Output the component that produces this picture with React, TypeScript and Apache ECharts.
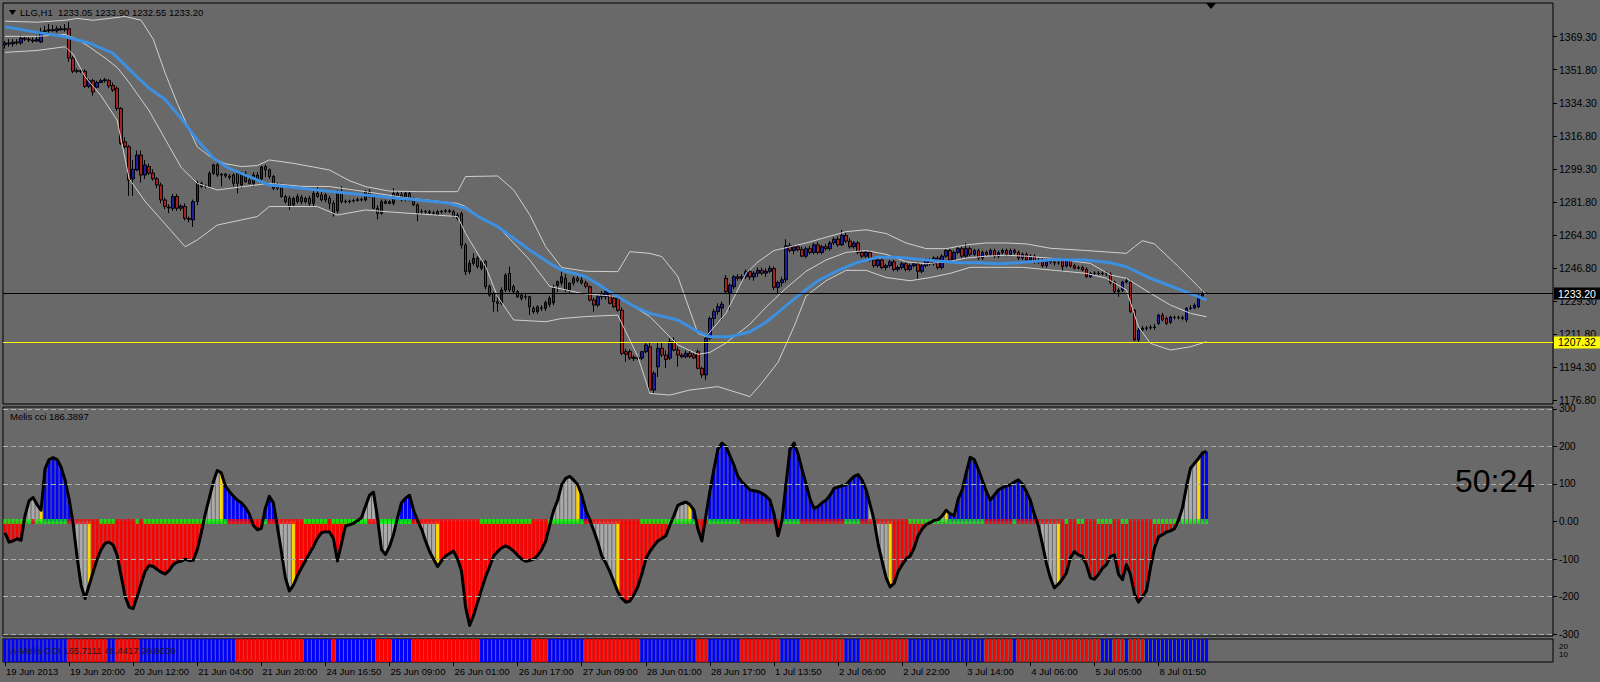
import React, { useEffect, useRef } from "react";
import * as echarts from "echarts";

// ---------- DATA ----------
const titleText = "LLG,H1  1233.05 1233.90 1232.55 1233.20";
const cciTitle = "Melis cci 186.3897";
const stripTitle = "A-Melis CCI 165.7111 48.4417 20.0000";
const timerText = "50:24";

const tickLabels = [
  "19 Jun 2013", "19 Jun 20:00", "20 Jun 12:00", "21 Jun 04:00", "21 Jun 20:00",
  "24 Jun 16:50", "25 Jun 09:00", "26 Jun 01:00", "26 Jun 17:00", "27 Jun 09:00",
  "28 Jun 01:00", "28 Jun 17:00", "1 Jul 13:50", "2 Jul 06:00", "2 Jul 22:00",
  "3 Jul 14:00", "4 Jul 06:00", "5 Jul 05:00", "8 Jul 01:50",
];
const barsPerLabel = 16;
const slotCount = 387; // visible bar slots incl. right chart shift

const priceTicks = [1176.8, 1194.3, 1211.8, 1229.3, 1246.8, 1264.3, 1281.8, 1299.3, 1316.8, 1334.3, 1351.8, 1369.3];
const cciTicks = [-300, -200, -100, 0, 100, 200, 300];
const cciLevels = [300, 200, 100, -100, -200, -300];
const stripTickLow = [10];
const stripTickHigh = [20];
const lastPrice = 1233.2;
const yellowLevel = 1207.32;

// [open, high, low, close]
const ohlc: number[][] = [
  [1365,1367,1363,1366],[1366,1368,1364,1365.5],[1365.5,1368,1364,1366.5],[1366.5,1368,1365,1366],[1366,1370,1365,1368.5],
  [1368.5,1369.5,1367,1368],[1368,1369,1366.5,1367.5],[1367.5,1369,1366,1367],[1367,1370,1366.5,1368],[1366.5,1374,1366,1372],
  [1372,1375,1370,1372.5],[1372.5,1376,1371,1373],[1373,1375.5,1372,1372.5],[1372.5,1375,1371.5,1373.5],[1373.5,1375,1372.5,1373],
  [1373,1376,1372,1373.5],[1373.5,1377,1356,1358],[1358,1359,1350,1351],[1351,1352.5,1350,1351.3],[1351.3,1352,1350,1350.8],
  [1351,1352,1342,1343],[1343,1347,1342,1346],[1346,1347,1338,1340],[1342.5,1346,1342,1345],[1345,1347,1345,1346],
  [1346,1347.5,1345,1346.5],[1346,1347,1342,1343.2],[1343.5,1345,1340,1341],[1342,1343,1330,1331.3],[1331.3,1332,1312,1312.8],
  [1313.6,1316,1310,1311],[1311,1312,1285,1293.3],[1294,1304,1285,1299],[1298.7,1309,1298,1306.6],[1306.6,1309,1292,1296],
  [1296,1304,1294,1301.3],[1300.5,1302,1296,1297],[1297,1299,1293,1294],[1294,1295,1289,1290.7],[1290.7,1292,1281,1282.8],
  [1282.8,1284,1278,1279.3],[1279,1280.5,1275.8,1278.6],[1278.4,1286,1277,1284.6],[1284.6,1286,1277,1278.4],[1278.4,1280.5,1277,1279.6],
  [1279.3,1281,1272,1273.1],[1273.1,1274,1271,1272.5],[1272.2,1283,1268.5,1281.9],[1281.9,1293,1280,1291.6],[1291.6,1292.5,1289,1290],
  [1290,1291,1289,1290.5],[1290,1298,1289,1296.9],[1296.9,1302,1296,1301.4],[1301.4,1302.5,1295,1296],[1296,1297,1290,1296.5],
  [1296.5,1297,1294.5,1295.5],[1295.5,1296.5,1293.5,1294.8],[1296,1297,1290,1291.6],[1296.9,1298,1286.3,1291.6],[1290.7,1298,1289,1296.9],
  [1296.9,1298,1292,1292.5],[1293.4,1294.5,1291,1291.6],[1291.6,1297.5,1290,1296],[1296,1297.5,1293,1293.4],[1294,1301,1293,1300.3],
  [1300.5,1301.4,1295,1298.7],[1298.7,1299.5,1294,1295.2],[1295.2,1296,1288,1289],[1289,1292,1288,1290.7],[1290.7,1291.5,1284,1284.6],
  [1284.6,1285.5,1281,1281.9],[1283.7,1285,1277.5,1279.3],[1280.2,1284.5,1279,1283.7],[1281.9,1286,1281,1284.6],[1284.2,1285.5,1280.5,1281.9],
  [1281.9,1284.5,1281,1283.7],[1283.7,1285,1279.5,1281],[1281,1287.5,1279,1286.3],[1286.3,1289.9,1284,1284.6],[1285.5,1287,1282,1282.8],
  [1282.8,1286.5,1281.5,1285.5],[1283.7,1285,1278,1281],[1281,1282.5,1274,1275.7],[1277,1288,1276,1286.3],[1286.3,1290,1281,1281.9],
  [1281.9,1283,1281,1282],[1282,1283,1281,1282.3],[1282.3,1283.5,1281.5,1282.5],[1282.5,1284,1282,1283],[1283,1284,1282,1282.8],
  [1282.8,1288,1282,1287.2],[1287.2,1288.5,1284,1284.6],[1284.6,1285.5,1278,1278.4],[1278.4,1280,1272.5,1275.7],[1275.7,1283,1275,1281.9],
  [1281.9,1283,1280.5,1281],[1281,1282.5,1280.5,1281.9],[1281,1289,1280,1286.3],[1286.3,1287.5,1284,1284.6],[1285.5,1287,1282,1282.8],
  [1282.8,1287.5,1282,1286.3],[1286.3,1287.5,1282,1282.8],[1282.8,1284,1279.5,1280.2],[1280.2,1281,1271.5,1275.7],[1276.5,1278,1275,1276.6],
  [1276.6,1277.5,1275.5,1276.5],[1276.5,1277.5,1275.5,1276],[1276,1277,1274.5,1275.7],[1275.1,1277.5,1274.5,1276.6],[1276.6,1277.5,1275.5,1276.8],
  [1276.8,1278,1276,1277],[1277,1278,1276,1276.6],[1276.6,1277.5,1273.5,1274],[1274.8,1276,1272,1273.1],[1275.5,1276.5,1257,1258.9],
  [1258.9,1260,1243,1244.8],[1244.8,1251,1243.5,1249.2],[1249.2,1254.5,1248,1251.9],[1251.9,1253,1246.5,1247.5],[1246.6,1251.5,1245.5,1250.1],
  [1250.1,1251,1235.5,1236.9],[1236.9,1238,1231.5,1232.4],[1233.3,1234,1223.6,1228.9],[1228.9,1233.3,1223.6,1228],[1228,1236.5,1227,1235.1],
  [1235.1,1244,1234,1243],[1243.9,1247.5,1234,1235.1],[1236.9,1238,1233,1234.2],[1234.2,1235,1231,1231.5],[1232.4,1233.5,1229.5,1230.7],
  [1231.5,1233,1230,1231.4],[1231.5,1232,1221.8,1226.2],[1225.4,1226.5,1222.5,1223.6],[1223.6,1227,1222.5,1226.2],[1225.4,1227,1224,1225.6],
  [1225.4,1229.5,1224,1228.4],[1227.5,1232,1226,1230.7],[1228.2,1238,1227,1236.1],[1237.5,1240,1234,1239.6],[1238.8,1245,1237.5,1242.1],
  [1241.3,1243.5,1234,1235.1],[1235.1,1239,1233.5,1238.8],[1238.8,1242.5,1237.5,1241.3],[1241.3,1243,1239,1240],[1240.4,1242,1238,1238.8],
  [1238.8,1240,1236,1237.1],[1236.8,1237.5,1229,1229.8],[1229.8,1231,1223.6,1227.1],[1227.1,1232.5,1226,1231.5],[1231.5,1234.5,1230,1233.3],
  [1231.5,1236.5,1230,1234.2],[1234.2,1235.5,1227.5,1228],[1230.6,1233,1225.5,1226.2],[1230.6,1232,1223.5,1224.4],[1224.4,1226,1200.5,1201.5],
  [1202.4,1204,1197.1,1201],[1202.4,1203.5,1198,1199],[1199.5,1200.5,1197.5,1198.8],[1198.8,1200,1198,1199.2],[1199,1202.8,1198,1202.4],
  [1202.4,1207,1201.5,1206],[1205,1207,1180.5,1182.1],[1182.1,1192,1180.5,1191],[1194.4,1207,1189,1204.2],[1204.2,1207,1199.5,1200.6],
  [1200.6,1203,1193.7,1198.3],[1199,1209.5,1198,1207.7],[1207.7,1210,1202.5,1203.3],[1203.3,1205,1194.5,1200.6],[1200.6,1201.5,1199,1199.7],
  [1199.7,1203,1199,1201.5],[1201.5,1203,1199,1199.9],[1200.6,1202,1198.5,1199.1],[1202.4,1203.5,1193,1193.6],[1193.6,1194.5,1188.4,1190.1],
  [1190.1,1211,1187.5,1209.5],[1209.5,1221,1208.5,1220],[1220,1225,1216,1223.6],[1223.6,1228,1222,1226.2],[1225.5,1229,1219,1227.6],
  [1241.3,1243,1233,1234.2],[1233.4,1238.5,1224.5,1237.7],[1236.8,1243,1235.5,1242.1],[1242.1,1243.5,1240,1241.3],[1241.3,1243.5,1240,1242.1],
  [1242.1,1246,1241,1244.8],[1244.8,1246,1240.5,1242],[1242,1245,1240,1244],[1244,1247,1242,1245.5],[1245.5,1247,1243,1244],
  [1244,1246.5,1242,1245],[1245,1248,1244,1246.5],[1246.5,1247.5,1235,1236.5],[1236.5,1240,1233,1239],[1239,1242,1237,1240.5],
  [1240.5,1262,1239,1258.5],[1258.5,1260,1255,1256],[1256,1259,1254,1258],[1258,1259,1255.5,1256.5],[1256.5,1258,1252.5,1253],
  [1253,1258,1252,1257],[1257,1258.5,1254,1255],[1255,1260,1254,1259],[1259,1260.5,1254,1255],[1255,1259,1254,1258],
  [1258,1259.5,1256,1257],[1257,1261,1256,1260],[1260,1263,1259,1262],[1262,1263.5,1258,1259],[1259,1267,1258.5,1264],
  [1264,1265.5,1260,1261],[1261,1262.5,1257,1258],[1258,1261,1257,1260],[1260,1261,1254,1255],[1255,1256,1252,1253],
  [1253,1256.5,1252,1255],[1255,1256,1250,1251],[1251,1252,1247,1248],[1248,1252,1247,1251],[1251,1252,1246,1247],
  [1247,1249,1245.5,1248],[1248,1251,1247,1250],[1250,1251,1245,1246],[1246,1248,1245,1247],[1247,1250,1246,1249],
  [1249,1250,1245,1246],[1246,1249,1245,1248],[1248,1250,1247,1249],[1249,1250,1241,1245],[1245,1249,1244,1248],
  [1248,1252,1247,1251],[1251,1252,1248,1249],[1249,1253,1248,1252],[1252,1253,1246,1247],[1247,1254,1246,1253],
  [1253,1257,1252,1256],[1256,1257,1250,1251],[1251,1256,1250,1255],[1255,1258,1254,1257],[1257,1258,1252,1253],
  [1253,1260,1252,1257],[1257,1258,1253,1254],[1254,1257,1253,1256],[1256,1257,1251,1252],[1252,1256,1251,1255],
  [1255,1256,1253,1254],[1254,1257,1253,1256],[1256,1257,1252,1253],[1253,1256,1252,1255],[1255,1257,1254,1256],
  [1256,1257,1253,1254],[1254,1257,1253,1256],[1256,1257,1254,1255],[1255,1256,1251,1252],[1252,1255,1251,1254],
  [1254,1255,1250,1251],[1251,1254,1250,1253],[1253,1254,1249,1250],[1250,1252,1249,1251],[1251,1252,1247,1248],
  [1248,1252,1247,1251],[1251,1252,1249,1250],[1250,1251,1248,1249.5],[1249.5,1251,1248.5,1249.5],[1251,1252,1245,1247.5],
  [1247.8,1252,1247,1251],[1251,1252,1247,1247.8],[1248,1249,1246,1246.6],[1246.6,1248,1246,1247],[1247,1248,1245,1245.7],
  [1246,1247,1241.5,1242.1],[1242.1,1244.5,1241.5,1243.9],[1243.9,1245,1243,1244],[1244,1245,1243,1243.8],[1243.8,1245,1243,1244],
  [1244,1245,1242.5,1243.6],[1243.5,1244.5,1238,1239],[1239.3,1240,1233.5,1234.2],[1234.2,1236,1231.5,1235],[1235,1240,1234,1239.3],
  [1239.3,1241,1238.5,1240],[1239.3,1240.5,1223,1223.6],[1224.4,1225,1208,1208.6],[1208.6,1215,1207.5,1213.9],[1214,1216,1213,1214.8],
  [1214.8,1216,1213.5,1215],[1215,1216.5,1214,1215.2],[1215.2,1217,1214,1215.5],[1217.4,1222.5,1216.5,1221.8],[1221.8,1223,1218.5,1219.2],
  [1220,1221,1216.5,1217.4],[1218,1221.5,1217,1220.8],[1220.5,1221.5,1219.5,1220.4],[1220.4,1221.5,1219.5,1220.4],[1220,1221.5,1219,1220.5],
  [1219.2,1226,1218,1225.4],[1225.4,1227,1224.5,1225.5],[1225.5,1228,1225,1227.1],[1226.2,1233,1225.5,1231.9],[1232,1235,1231,1233],
  [1233.05,1233.9,1232.55,1233.2],
];

// Moving average (blue) and Bollinger lines (white), read as [bar, price]
const maLine = [[0,1374.6],[7,1372],[15,1369.3],[21,1366],[27,1360.5],[32,1350],[36,1342],[40,1336],[44,1326],[48,1314.6],[52,1305],[56,1299.5],[59,1296.9],[66,1290.7],[74,1289],[82,1287.2],[90,1285.4],[98,1283.7],[102,1283.1],[111,1281],[115,1278.4],[119,1273],[123,1268.7],[127,1262.5],[131,1256.3],[136,1249.2],[139,1245.7],[145,1242.1],[149,1237],[153,1231.5],[157,1226.5],[161,1222.7],[168,1219.2],[173,1213],[176,1210.3],[181,1210.3],[186,1213],[190,1218],[194,1225],[198,1232],[203,1240],[208,1245.5],[213,1249.8],[218,1252.5],[223,1252.5],[228,1251.4],[233,1250.5],[238,1249.5],[243,1249.5],[248,1249],[253,1249.5],[258,1250.5],[262,1251.3],[270,1251],[276,1249.5],[280,1247.4],[286,1241.3],[290,1238],[295,1234],[300,1229.8]];
const bbUpper = [[0,1377.5],[8,1377],[15,1378],[18,1379],[22,1378],[26,1379],[30,1380],[34,1378],[37,1368],[40,1350],[43,1334],[46,1320],[48,1311],[51,1306],[55,1302],[59,1300.5],[63,1301],[66,1304],[72,1302.2],[81,1298.7],[86,1293],[90,1289.9],[96,1287.5],[103,1287.2],[113,1287.2],[115,1295.2],[123,1295.5],[127,1288.1],[131,1275],[135,1258],[139,1247],[145,1245],[153,1244.8],[156,1255.4],[161,1254.5],[164,1252.8],[168,1242.2],[173,1212.1],[175,1210.4],[180,1222.7],[185,1243.9],[188,1250],[192,1256],[196,1258],[200,1260],[205,1263],[210,1266],[215,1267],[220,1265],[225,1260],[230,1257],[235,1257],[240,1259],[245,1260],[250,1260],[255,1259.5],[261,1257.2],[270,1256],[280,1254.5],[282,1258],[284,1261.2],[287,1259.5],[293,1247.4],[298,1236.8],[300,1232.4]];
const bbMiddle = [[0,1369.5],[8,1369.5],[15,1370.5],[18,1368],[21,1364],[25,1358],[28,1353],[31,1345],[36,1330],[40,1315],[44,1300],[48,1291.6],[53,1288.1],[60,1290],[66,1291.6],[74,1290],[81,1289.9],[90,1287.2],[100,1284],[113,1281],[115,1279.3],[119,1273],[123,1268.7],[127,1260],[131,1251],[136,1237],[144,1233.3],[153,1231.6],[161,1221],[168,1206],[173,1201],[176,1202],[180,1207],[186,1217],[190,1226],[195,1236],[200,1245],[205,1251],[210,1255],[215,1256],[220,1254],[225,1250],[230,1249],[235,1250],[240,1252],[245,1253],[250,1253.5],[255,1253],[261,1251.9],[271,1249.2],[276,1243],[280,1241.3],[286,1233.3],[291,1227.1],[296,1222.7],[300,1220.9]];
const bbLower = [[0,1361],[8,1362],[15,1364],[17,1360],[20,1348],[24,1338],[28,1325],[31,1294],[35,1282],[40,1270],[45,1258],[48,1261.6],[53,1269.5],[63,1274],[66,1279.3],[78,1279.3],[83,1274.8],[90,1277.5],[95,1276.6],[113,1274],[115,1265],[120,1247.5],[123,1231.5],[127,1219.2],[135,1218.3],[139,1220],[145,1221],[153,1221.8],[156,1208.6],[158,1199.8],[161,1180.3],[166,1179.4],[171,1182.1],[178,1183.9],[186,1178.6],[189,1185.9],[193,1196.8],[197,1215.7],[200,1231.9],[205,1240],[210,1245.5],[215,1245.5],[220,1241.7],[226,1240],[231,1241.7],[236,1243.9],[241,1247.1],[246,1247.1],[254,1247.1],[261,1245.7],[270,1243.9],[275,1241.3],[280,1235.1],[283,1215.6],[286,1206.8],[291,1203.3],[296,1205],[300,1207.7]];

// CCI value per bar
const cci = [
  -30,-55,-52,-46,-50,16,55,64,45,30, 140,165,170,165,145,110,60,-5,-95,-170,
  -205,-170,-135,-100,-75,-58,-55,-63,-90,-145, -200,-228,-232,-200,-165,-132,-117,-120,-128,-135,
  -140,-130,-115,-108,-106,-100,-104,-103,-75,-31, 20,62,105,136,130,95,80,68,57,50,
  38,20,-10,-22,-18,35,67,50,-13,-80, -150,-185,-170,-145,-124,-105,-85,-67,-45,-30,
  -27,-28,-45,-105,-60,-12,-9,-5,2,10, 40,70,78,10,-75,-88,-67,-35,10,50,
  62,70,30,3,-20,-52,-80,-100,-120,-105, -92,-85,-79,-100,-133,-228,-277,-250,-215,-180,
  -147,-120,-92,-80,-70,-65,-70,-79,-90,-100, -106,-104,-100,-90,-75,-52,-10,30,57,98,
  115,120,110,98,70,30,5,-24,-55,-92, -110,-133,-160,-187,-205,-215,-212,-195,-174,-140,
  -100,-80,-65,-52,-45,-38,-10,15,43,48, 52,45,30,-20,-52,16,80,139,193,209,
  200,175,150,120,105,95,84,82,80,75, 68,57,20,-38,3,100,193,209,180,139,
  100,60,35,40,50,57,70,88,92,95, 98,110,120,125,110,84,45,3,-60,-106,
  -150,-174,-165,-133,-115,-100,-92,-70,-38,-20, -8,-3,3,5,15,30,20,16,60,84,
  130,171,165,139,110,80,57,70,84,90, 95,98,105,111,100,80,57,20,-11,-60,
  -110,-150,-177,-167,-154,-137,-97,-80,-89,-93, -115,-150,-154,-141,-125,-115,-93,-89,-140,-155,
  -115,-141,-193,-215,-200,-184,-123,-71,-41,-35, -28,-25,-19,3,37,94,142,155,168,183,
  186.39,
];

// Histogram colour per bar: R red, B blue, G gray, Y yellow
const histCodes = [
  "RRRRR","GGGG","Y","BBBBBBB","GGGG","Y","RRRRRRRRRRRRRRRRRRRRRRRRRRRR","GGGG","Y","BBBBBBB",
  "RRR","BBB","GGGG","Y","RRRRRRRRRRRRRRR","GGGGGG","GGGG","BBBBBB","GGGG","Y",
  "RRRRRRRRRRRRRRRRRRRRRRRRRRRR","GGGGGG","Y","BBB","GGGGGG","Y","RRRRRRRRRRRR","GGGGG","Y","B",
  "RR","G","BBBBBBBBBBBBBBBBB","R","BBBBBBBBBBBBBBBBBBBBBB","GGGGG","Y","RRRRRRRRRR","GGG","Y",
  "BBBBBBBBBBBBBBBBBBBBBB","GGGGG","Y","RRRRRRRRRRRRRRRRRRRRRRRRRRRRRR","GGGG","Y","BB",
].join("");

// Zero-line dots: G green, R red
const dotCodes = [
  "GGGGGGG","R","GGGGGGGG","RRRRRRRR","GGGG","RRRRR","G","R","GGGGGGGGGGGGGGGGGGGGG","RRRRRRRRR",
  "G","RRRRRRRRR","GGGGGG","R","GGGGGGGGG","RRR","GGGGG",
  "GGG","RRRRRRRRRRRRRRRRR","GGGGGGGGGGGGG","RRRR","GGGGGGGGG","RRRRRRRRRRRRRR","GGGGGGGGGGGGGG","RRR","GGGGGGGG",
  "RRRRRRRRRR","GGGGG","RRRRRRRRRRR","GGGG","RRRRRRRRRRRR","GGGGGGGGGGGGGGGGGGG","RRRRRRR","G","RRRRRRRR",
  "RRRR","G","RR","GG","RRR","GGGG","RR","GG","RRRRRR","GGGGGGGGGGGGGG",
].join("");

// Bottom strip colour per bar: B blue, R red
const stripCodes = [
  "BBBBBBBBBBBBBBBB","RRRRRRRRRR","BB","RRRRRR","BBBBBBBBBBBBBBBBBBBBBBBB","RRRRRRRRRRRRRRRRR","BBBBBBB","R","BBBBBBBBBB","RRRR",
  "BBBBB","RRRRRRRRRRRRRRRRR","BBBBBBBBBBBBB","RRRR","BBBBBBBBB","RRRRRRRRRRRRRR","BBBBBBBBBBBBBB","RRR","BBBBBBBB","RRRRRRRRRR",
  "BBBBB","RRRRRRRRRRR","BBBB","RRRRRRRRRRRR","BBBBBBBBBBBBBBBBBBB","RRRRRRR","B","RRRRRRRRRRRRRRRRRRRRR","BBB","RRR",
  "B","RRRR","BBBBBBBBBBBBBBBB",
].join("");

// ---------- STYLE ----------
const FONT = '"Liberation Sans", Arial, sans-serif';
const BG = "#696969";
const histColor: Record<string, string> = { R: "#ff0000", B: "#0000ff", G: "#a9a9a9", Y: "#ffd700" };
const dotColor: Record<string, string> = { G: "#00ff00", R: "#ff0000" };
const stripColor: Record<string, string> = { B: "#0000ff", R: "#ff0000" };

export default function App() {
  const ref = useRef<HTMLDivElement>(null);

  useEffect(() => {
    document.body.style.margin = "0";
    if (!ref.current) return;
    const chart = echarts.init(ref.current, null, { renderer: "svg" });

    const categories = Array.from({ length: slotCount }, (_, i) => String(i));
    const isLabelIdx = (i: number) => i % barsPerLabel === 0 && i / barsPerLabel < tickLabels.length;

    const gridBase = { left: 3, right: 47, show: true, borderColor: "#000", borderWidth: 1, backgroundColor: "transparent" };

    const hiddenX = (gi: number) => ({
      type: "category", gridIndex: gi, data: categories, boundaryGap: true,
      axisLine: { show: false }, axisTick: { show: false }, axisLabel: { show: false }, splitLine: { show: false },
    });

    const stripAxis = (vals: number[]) => ({
      type: "value", gridIndex: 2, position: "right", min: 0, max: 30,
      axisLine: { show: false }, splitLine: { show: false }, axisTick: { show: false },
      axisLabel: { customValues: vals, hideOverlap: false, color: "#000", fontSize: 8, lineHeight: 8, fontFamily: FONT, margin: 6 },
    });

    const option: any = {
      animation: false,
      backgroundColor: BG,
      grid: [
        { ...gridBase, top: 3, height: 401 },
        { ...gridBase, top: 407, height: 229 },
        { ...gridBase, top: 639, height: 23 },
      ],
      xAxis: [
        hiddenX(0),
        hiddenX(1),
        {
          type: "category", gridIndex: 2, data: categories, boundaryGap: true,
          axisLine: { show: false },
          axisTick: { show: true, alignWithLabel: true, interval: (i: number) => isLabelIdx(i), length: 4, lineStyle: { color: "#000" } },
          axisLabel: {
            show: true, interval: (i: number) => isLabelIdx(i), hideOverlap: false,
            formatter: (_v: string, i: number) => tickLabels[i / barsPerLabel] ?? "",
            color: "#000", fontSize: 9.5, fontFamily: FONT, align: "left", margin: 4, padding: [0, 0, 0, 1],
          },
          splitLine: { show: false },
        },
      ],
      yAxis: [
        {
          type: "value", gridIndex: 0, position: "right", min: 1174.68, max: 1387.16, scale: true,
          axisLine: { show: false }, splitLine: { show: false },
          axisTick: { show: true, customValues: priceTicks, length: 4, lineStyle: { color: "#000" } },
          axisLabel: { customValues: priceTicks, hideOverlap: false, formatter: (v: number) => v.toFixed(2), color: "#000", fontSize: 10.5, fontFamily: FONT, margin: 6 },
        },
        {
          type: "value", gridIndex: 1, position: "right", min: -305, max: 305,
          axisLine: { show: false }, splitLine: { show: false },
          axisTick: { show: true, customValues: cciTicks, length: 4, lineStyle: { color: "#000" } },
          axisLabel: { customValues: cciTicks, hideOverlap: false, formatter: (v: number) => (v === 0 ? "0.00" : String(v)), color: "#000", fontSize: 10, lineHeight: 10, fontFamily: FONT, margin: 6 },
        },
        stripAxis(stripTickLow),
        stripAxis(stripTickHigh),
      ],
      series: [
        {
          type: "candlestick", xAxisIndex: 0, yAxisIndex: 0, barWidth: 3, z: 2,
          data: ohlc.map((d) => [d[0], d[3], d[2], d[1]]),
          itemStyle: { color: "#1e1ea0", color0: "#a82020", borderColor: "#000", borderColor0: "#000", borderWidth: 1 },
          markLine: {
            silent: true, symbol: "none", animation: false,
            data: [
              {
                yAxis: lastPrice,
                lineStyle: { color: "#000", width: 1, type: "solid" },
                label: { show: true, position: "end", distance: 1, formatter: lastPrice.toFixed(2), color: "#fff", backgroundColor: "#000", padding: [1, 4, 0, 4], fontSize: 10.5, fontFamily: FONT },
              },
              {
                yAxis: yellowLevel,
                lineStyle: { color: "#ffff00", width: 1, type: "solid" },
                label: { show: true, position: "end", distance: 1, formatter: yellowLevel.toFixed(2), color: "#000", backgroundColor: "#ffff00", padding: [1, 4, 0, 4], fontSize: 10.5, fontFamily: FONT },
              },
            ],
          },
        },
        { type: "line", xAxisIndex: 0, yAxisIndex: 0, data: bbUpper, symbol: "none", lineStyle: { color: "#d0d0d0", width: 1 }, z: 3 },
        { type: "line", xAxisIndex: 0, yAxisIndex: 0, data: bbMiddle, symbol: "none", lineStyle: { color: "#d0d0d0", width: 1 }, z: 3 },
        { type: "line", xAxisIndex: 0, yAxisIndex: 0, data: bbLower, symbol: "none", lineStyle: { color: "#d0d0d0", width: 1 }, z: 3 },
        { type: "line", xAxisIndex: 0, yAxisIndex: 0, data: maLine, symbol: "none", lineStyle: { color: "#3d8fe0", width: 3 }, z: 4 },

        {
          type: "line", xAxisIndex: 1, yAxisIndex: 1, data: [], z: 1,
          markLine: {
            silent: true, symbol: "none", label: { show: false },
            lineStyle: { color: "#a9b2a9", width: 1, type: [5, 3] },
            data: cciLevels.map((v) => ({ yAxis: v })),
          },
        },
        {
          type: "bar", xAxisIndex: 1, yAxisIndex: 1, barWidth: 3, z: 2,
          data: cci.map((v, i) => ({ value: v, itemStyle: { color: histColor[histCodes[i]] || "#a9a9a9" } })),
        },
        {
          type: "scatter", xAxisIndex: 1, yAxisIndex: 1, symbol: "rect", symbolSize: [3, 5], z: 3,
          data: cci.map((_v, i) => ({ value: [i, 0], itemStyle: { color: dotColor[dotCodes[i]] || "#00ff00" } })),
        },
        {
          type: "line", xAxisIndex: 1, yAxisIndex: 1, data: cci, symbol: "none", z: 4,
          lineStyle: { color: "#000", width: 3, join: "round" },
        },
        {
          type: "bar", xAxisIndex: 2, yAxisIndex: 2, barWidth: 3, z: 2,
          data: stripCodes.split("").map((c) => ({ value: 30, itemStyle: { color: stripColor[c] } })),
        },
      ],
      graphic: [
        { type: "polygon", z: 100, shape: { points: [[9, 10], [16, 10], [12.5, 15]] }, style: { fill: "#000" } },
        { type: "text", z: 100, left: 20, top: 7, style: { text: titleText, fill: "#000", font: `9.5px ${FONT}` } },
        { type: "polygon", z: 100, shape: { points: [[1206, 3], [1216, 3], [1211, 9]] }, style: { fill: "#000" } },
        { type: "text", z: 100, left: 10, top: 411, style: { text: cciTitle, fill: "#000", font: `9.5px ${FONT}` } },
        { type: "text", z: 100, left: 10, top: 645, style: { text: stripTitle, fill: "#1a1a1a", font: `9.5px ${FONT}` } },
        { type: "text", z: 100, left: 1455, top: 465, style: { text: timerText, fill: "#000", font: `32px ${FONT}` } },
      ],
    };

    chart.setOption(option);
    return () => chart.dispose();
  }, []);

  return <div ref={ref} style={{ width: 1600, height: 682, background: BG }} />;
}
